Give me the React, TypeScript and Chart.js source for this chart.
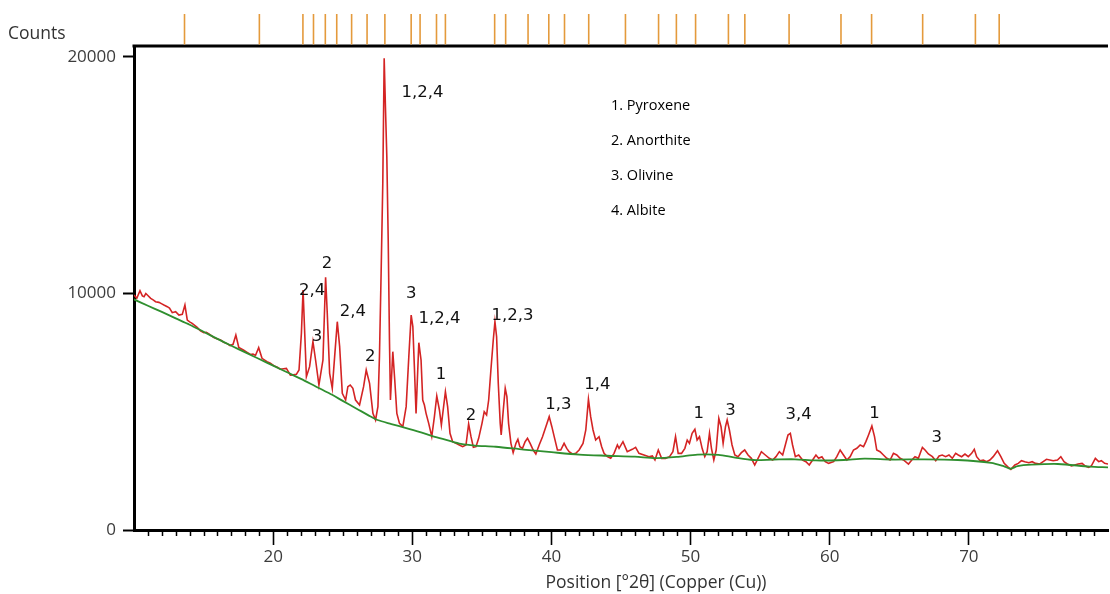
import React, { useEffect, useRef } from 'react';
import { Chart, registerables } from 'chart.js';

Chart.register(...registerables);

// ---- measured pattern (red) ----
const patternTheta = [
  10.0, 10.2, 10.43, 10.6, 10.72, 10.85, 10.96, 11.2, 11.4, 11.55, 11.79, 12.0, 12.15, 12.39, 12.55, 12.75, 12.99,
  13.23, 13.47, 13.66, 13.83, 14.0, 14.18, 14.54, 14.78, 15.02, 15.2, 15.38, 15.74, 16.0, 16.22, 16.45, 16.69,
  16.9, 17.12, 17.32, 17.53, 17.89, 18.1, 18.37, 18.55, 18.73, 18.96, 19.2, 19.56, 19.8, 20.04, 20.3, 20.52,
  20.75, 20.95, 21.24, 21.45, 21.67, 21.86, 22.03, 22.15, 22.27, 22.39, 22.62, 22.86, 23.05, 23.29, 23.58,
  23.77, 23.89, 24.06, 24.25, 24.42, 24.61, 24.78, 24.97, 25.21, 25.37, 25.54, 25.73, 25.92, 26.21, 26.5,
  26.69, 26.93, 27.17, 27.36, 27.53, 27.64, 27.76, 27.88, 27.98, 28.07, 28.17, 28.27, 28.36, 28.43, 28.6,
  28.74, 28.89, 29.08, 29.32, 29.56, 29.75, 29.92, 30.04, 30.15, 30.27, 30.47, 30.63, 30.75, 30.87, 30.99,
  31.18, 31.4, 31.59, 31.76, 31.95, 32.09, 32.38, 32.54, 32.71, 32.9, 33.14, 33.38, 33.62, 33.86, 34.05,
  34.22, 34.39, 34.58, 34.77, 35.01, 35.17, 35.34, 35.49, 35.65, 35.82, 35.94, 36.06, 36.18, 36.32, 36.39,
  36.54, 36.68, 36.8, 36.92, 37.09, 37.25, 37.45, 37.59, 37.73, 37.92, 38.11, 38.28, 38.47, 38.69, 38.88,
  39.12, 39.36, 39.6, 39.84, 40.03, 40.2, 40.43, 40.67, 40.91, 41.1, 41.27, 41.51, 41.75, 41.99, 42.27,
  42.47, 42.66, 42.82, 42.99, 43.18, 43.42, 43.61, 43.78, 44.02, 44.26, 44.5, 44.74, 44.86, 45.14, 45.45,
  45.81, 46.05, 46.29, 46.65, 47.01, 47.25, 47.44, 47.68, 47.92, 48.2, 48.49, 48.73, 48.92, 49.11, 49.35,
  49.59, 49.76, 49.92, 50.11, 50.31, 50.47, 50.64, 50.83, 51.02, 51.19, 51.36, 51.5, 51.67, 51.84, 52.03,
  52.19, 52.34, 52.51, 52.63, 52.79, 52.98, 53.18, 53.41, 53.65, 53.89, 54.13, 54.37, 54.61, 54.85, 55.09,
  55.37, 55.66, 55.9, 56.14, 56.38, 56.62, 56.81, 57.0, 57.17, 57.33, 57.53, 57.77, 58.05, 58.29, 58.53,
  58.77, 59.01, 59.2, 59.44, 59.68, 59.92, 60.28, 60.51, 60.75, 60.99, 61.23, 61.47, 61.71, 61.95, 62.19,
  62.43, 62.6, 62.79, 63.03, 63.22, 63.38, 63.62, 63.86, 64.1, 64.34, 64.58, 64.82, 65.06, 65.3, 65.66,
  65.9, 66.13, 66.37, 66.66, 66.85, 67.09, 67.38, 67.62, 67.86, 68.09, 68.33, 68.57, 68.81, 69.05, 69.24,
  69.48, 69.72, 69.96, 70.2, 70.39, 70.56, 70.8, 71.04, 71.27, 71.51, 71.75, 72.06, 72.3, 72.54, 72.78,
  73.02, 73.31, 73.55, 73.78, 74.02, 74.31, 74.55, 74.79, 75.1, 75.34, 75.58, 75.82, 76.06, 76.37, 76.61,
  76.84, 77.08, 77.37, 77.61, 77.85, 78.14, 78.37, 78.61, 78.8, 79.09, 79.33, 79.52, 79.76, 80.0,
];
const patternCounts = [
  9936, 9800, 10119, 9900, 9865, 10000, 9936, 9795, 9720, 9654, 9626, 9560, 9513, 9443, 9380, 9189, 9231,
  9090, 9118, 9513, 8879, 8800, 8738, 8569, 8420, 8340, 8360, 8290, 8140, 8080, 8030, 7940, 7880,
  7800, 7850, 8245, 7720, 7600, 7520, 7420, 7440, 7380, 7709, 7260, 7120, 7050, 6950, 6880, 6800,
  6820, 6835, 6550, 6560, 6580, 6765, 8315, 10150, 8315, 6483, 6906, 7963, 7188, 6131, 7188,
  10683, 9161, 6624, 5990, 7329, 8808, 7752, 5779, 5496, 6060, 6131, 5990, 5496, 5285, 6060,
  6765, 6201, 4932, 4651, 5215, 7329, 10852, 14657, 19950, 17898, 15784, 12261, 8033, 5496, 7540,
  6342, 4932, 4510, 4369, 5215, 7329, 9090, 8597, 6906, 4932, 7921, 7188, 5496, 5285, 4932,
  4510, 3950, 4792, 5666, 5074, 4439, 5849, 5215, 4087, 3735, 3664, 3594, 3523, 3594, 4482,
  3946, 3495, 3523, 3875, 4510, 5003, 4862, 5496, 6765, 8033, 8808, 8174, 6201, 4510, 4017,
  5074, 5990, 5638, 4510, 3664, 3270, 3664, 3833, 3523, 3452, 3735, 3875, 3664, 3382, 3213,
  3594, 3946, 4369, 4792, 4369, 3946, 3382, 3382, 3664, 3452, 3312, 3213, 3241, 3382, 3664,
  4228, 5525, 4792, 4228, 3805, 3946, 3523, 3241, 3100, 3030, 3241, 3594, 3453, 3735, 3312,
  3411, 3495, 3241, 3171, 3100, 3129, 2960, 3382, 3030, 3030, 3100, 3312, 3946, 3241, 3241,
  3453, 3805, 3664, 4087, 4256, 3805, 3946, 3453, 3100, 3312, 4087, 3453, 2960, 3382, 4721,
  4369, 3664, 4369, 4651, 4228, 3594, 3171, 3100, 3270, 3382, 3171, 3030, 2748, 3030, 3312,
  3171, 3030, 2960, 3100, 3312, 3171, 3594, 4017, 4087, 3594, 3100, 3171, 2960, 2889, 2748,
  2960, 3171, 3030, 3100, 2889, 2818, 2889, 3100, 3382, 3171, 2960, 3100, 3382, 3453, 3594,
  3523, 3735, 4017, 4397, 3946, 3382, 3312, 3171, 3030, 2960, 3241, 3171, 3030, 2960, 2790,
  2960, 3100, 3030, 3495, 3382, 3213, 3100, 2931, 3129, 3171, 3100, 3171, 3030, 3241, 3171,
  3100, 3213, 3100, 3241, 3411, 3100, 2931, 2960, 2889, 2960, 3100, 3354, 3100, 2818, 2678,
  2564, 2748, 2818, 2931, 2889, 2847, 2889, 2818, 2790, 2889, 2988, 2960, 2931, 2960, 3100,
  2889, 2790, 2706, 2748, 2790, 2818, 2706, 2649, 2706, 3030, 2889, 2931, 2818, 2790,
];

// ---- fitted background (green) ----
const backgroundTheta = [
  10.0, 11.0, 12.0, 13.0, 14.0, 15.0, 16.0, 17.0, 18.0, 19.0, 20.0, 21.0, 22.0, 23.0, 24.0, 25.0, 26.0, 27.0,
  27.5, 28.5, 29.5, 30.5, 31.5, 32.5, 33.5, 34.5, 36.0, 38.0, 40.0, 42.0, 44.0, 46.0, 47.5, 49.0, 50.5, 52.0,
  53.2, 54.5, 56.0, 57.5, 59.0, 61.0, 62.5, 64.5, 66.8, 69.2, 71.6, 72.5, 73.0, 73.5, 74.5, 76.4, 78.7, 80.0,
];
const backgroundCounts = [
  9750, 9480, 9220, 8950, 8680, 8380, 8080, 7790, 7510, 7230, 6950, 6670, 6390, 6090, 5790, 5460, 5130, 4800,
  4650, 4480, 4320, 4150, 3960, 3800, 3640, 3570, 3520, 3400, 3290, 3190, 3140, 3100, 3040, 3090, 3190, 3180,
  3060, 2960, 2980, 2990, 2940, 2960, 3020, 2980, 2990, 2960, 2840, 2700, 2590, 2700, 2760, 2790, 2680, 2650,
];

// ---- reference peak list (orange sticks above the plot) ----
const referencePeakTheta = [
  13.63, 19.01, 22.14, 22.9, 23.75, 24.57, 25.64, 26.75, 28.03, 29.92, 30.56, 31.74, 32.38, 35.92, 36.71,
  38.32, 39.81, 40.94, 42.68, 45.32, 47.7, 48.98, 50.36, 52.72, 53.9, 57.08, 60.81, 63.01, 66.68, 70.47, 72.18,
];

// ---- axes ----
const xMin = 10;
const xMax = 80;
const xTickLabels = [20, 30, 40, 50, 60, 70];
const yTickValues = [0, 10000, 20000];
const yMax = 20465;

// ---- peak annotations ----
const peakLabelText = ['1,2,4', '2,4', '2', '3', '2,4', '2', '3', '1,2,4', '1', '2', '1,2,3', '1,3', '1,4', '1', '3', '3,4', '1', '3'];
const peakLabelTheta = [30.73, 22.8, 23.87, 23.15, 25.73, 26.98, 29.92, 31.95, 32.07, 34.22, 37.2, 40.5, 43.3, 50.59, 52.87, 57.77, 63.22, 67.69];
const peakLabelCounts = [18476, 10105, 11246, 8174, 9231, 7329, 10006, 8949, 6553, 4820, 9048, 5285, 6130, 4905, 5045, 4862, 4932, 3904];

// ---- phase key ----
const phaseNames = ['1. Pyroxene', '2. Anorthite', '3. Olivine', '4. Albite'];
const phaseKeyTheta = 44.28;
const phaseKeyCounts = [17927, 16447, 14967, 13488];

const AXIS_FONT = '"Open Sans", "Noto Sans", sans-serif';

const decorations = {
  id: 'decorations',
  afterDraw(chart: any) {
    const { ctx, chartArea, scales } = chart;
    const xs = scales.x;
    const ys = scales.y;
    ctx.save();

    // top frame line
    ctx.strokeStyle = '#000';
    ctx.lineWidth = 3;
    ctx.beginPath();
    ctx.moveTo(chartArea.left - 1.5, chartArea.top);
    ctx.lineTo(chartArea.right, chartArea.top);
    ctx.stroke();

    // minor x ticks
    ctx.lineWidth = 1.5;
    for (const t of xs.ticks) {
      const v = t.value;
      if (v <= xMin || v >= xMax || xTickLabels.includes(v)) continue;
      const px = Math.round(xs.getPixelForValue(v)) + 0.5;
      ctx.beginPath();
      ctx.moveTo(px, chartArea.bottom);
      ctx.lineTo(px, chartArea.bottom + 6);
      ctx.stroke();
    }

    // reference peak sticks
    ctx.strokeStyle = '#E49A3C';
    ctx.lineWidth = 1.6;
    for (const th of referencePeakTheta) {
      const px = xs.getPixelForValue(th);
      ctx.beginPath();
      ctx.moveTo(px, chartArea.top - 32);
      ctx.lineTo(px, chartArea.top - 1.5);
      ctx.stroke();
    }

    // peak labels
    ctx.fillStyle = '#111';
    ctx.font = '16.5px "DejaVu Sans", Verdana, sans-serif';
    ctx.textAlign = 'center';
    ctx.textBaseline = 'middle';
    peakLabelText.forEach((txt, i) => {
      ctx.fillText(txt, xs.getPixelForValue(peakLabelTheta[i]), ys.getPixelForValue(peakLabelCounts[i]));
    });

    // phase key
    ctx.fillStyle = '#000';
    ctx.font = '14.5px ' + AXIS_FONT;
    ctx.textAlign = 'left';
    phaseNames.forEach((txt, i) => {
      ctx.fillText(txt, xs.getPixelForValue(phaseKeyTheta), ys.getPixelForValue(phaseKeyCounts[i]));
    });

    // y axis caption
    ctx.fillStyle = '#333';
    ctx.font = '17.5px ' + AXIS_FONT;
    ctx.textAlign = 'left';
    ctx.fillText('Counts', 8, 34);

    // x axis caption
    ctx.textAlign = 'center';
    ctx.fillText('Position [°2θ] (Copper (Cu))', 656, 583);

    ctx.restore();
  },
};

export default function App() {
  const canvasRef = useRef<HTMLCanvasElement | null>(null);

  useEffect(() => {
    const canvas = canvasRef.current;
    if (!canvas) return;
    const pattern = patternTheta.map((x, i) => ({ x, y: patternCounts[i] }));
    const background = backgroundTheta.map((x, i) => ({ x, y: backgroundCounts[i] }));

    const chart = new Chart(canvas, {
      type: 'line',
      data: {
        datasets: [
          {
            label: 'Background',
            data: background,
            borderColor: '#2F8F2F',
            borderWidth: 1.8,
            pointRadius: 0,
            tension: 0.3,
            fill: false,
          },
          {
            label: 'Pattern',
            data: pattern,
            borderColor: '#D42424',
            borderWidth: 1.6,
            pointRadius: 0,
            tension: 0,
            fill: false,
          },
        ],
      },
      options: {
        animation: false,
        responsive: false,
        devicePixelRatio: 1,
        layout: { padding: { top: 46, right: 0, left: 0, bottom: 0 } },
        plugins: {
          legend: { display: false },
          tooltip: { enabled: false },
        },
        scales: {
          x: {
            type: 'linear',
            min: xMin,
            max: xMax,
            afterFit: (scale: any) => {
              scale.height = 64;
            },
            border: { display: true, color: '#000', width: 3 },
            grid: {
              drawOnChartArea: false,
              drawTicks: true,
              tickLength: 15,
              tickWidth: 1.6,
              tickColor: (c: any) => (c.tick && xTickLabels.includes(c.tick.value) ? '#000' : 'rgba(0,0,0,0)'),
            },
            ticks: {
              stepSize: 1,
              autoSkip: false,
              maxRotation: 0,
              padding: 2,
              color: '#3c3c3c',
              font: { family: AXIS_FONT, size: 17 },
              callback: (v: any) => (xTickLabels.includes(Number(v)) ? String(v) : ''),
            },
          },
          y: {
            type: 'linear',
            min: 0,
            max: yMax,
            afterFit: (scale: any) => {
              scale.width = 134;
            },
            afterBuildTicks: (scale: any) => {
              scale.ticks = yTickValues.map((v) => ({ value: v }));
            },
            border: { display: true, color: '#000', width: 3 },
            grid: {
              drawOnChartArea: false,
              drawTicks: true,
              tickLength: 11,
              tickWidth: 2,
              tickColor: '#000',
            },
            ticks: {
              padding: 7,
              color: '#3c3c3c',
              font: { family: AXIS_FONT, size: 17 },
              callback: (v: any) => String(v),
            },
          },
        },
      },
      plugins: [decorations],
    });

    return () => {
      chart.destroy();
    };
  }, []);

  return (
    <div style={{ position: 'fixed', left: 0, top: 0, width: 1110, height: 594, background: '#fff' }}>
      <canvas ref={canvasRef} width={1110} height={594} style={{ display: 'block' }} />
    </div>
  );
}
